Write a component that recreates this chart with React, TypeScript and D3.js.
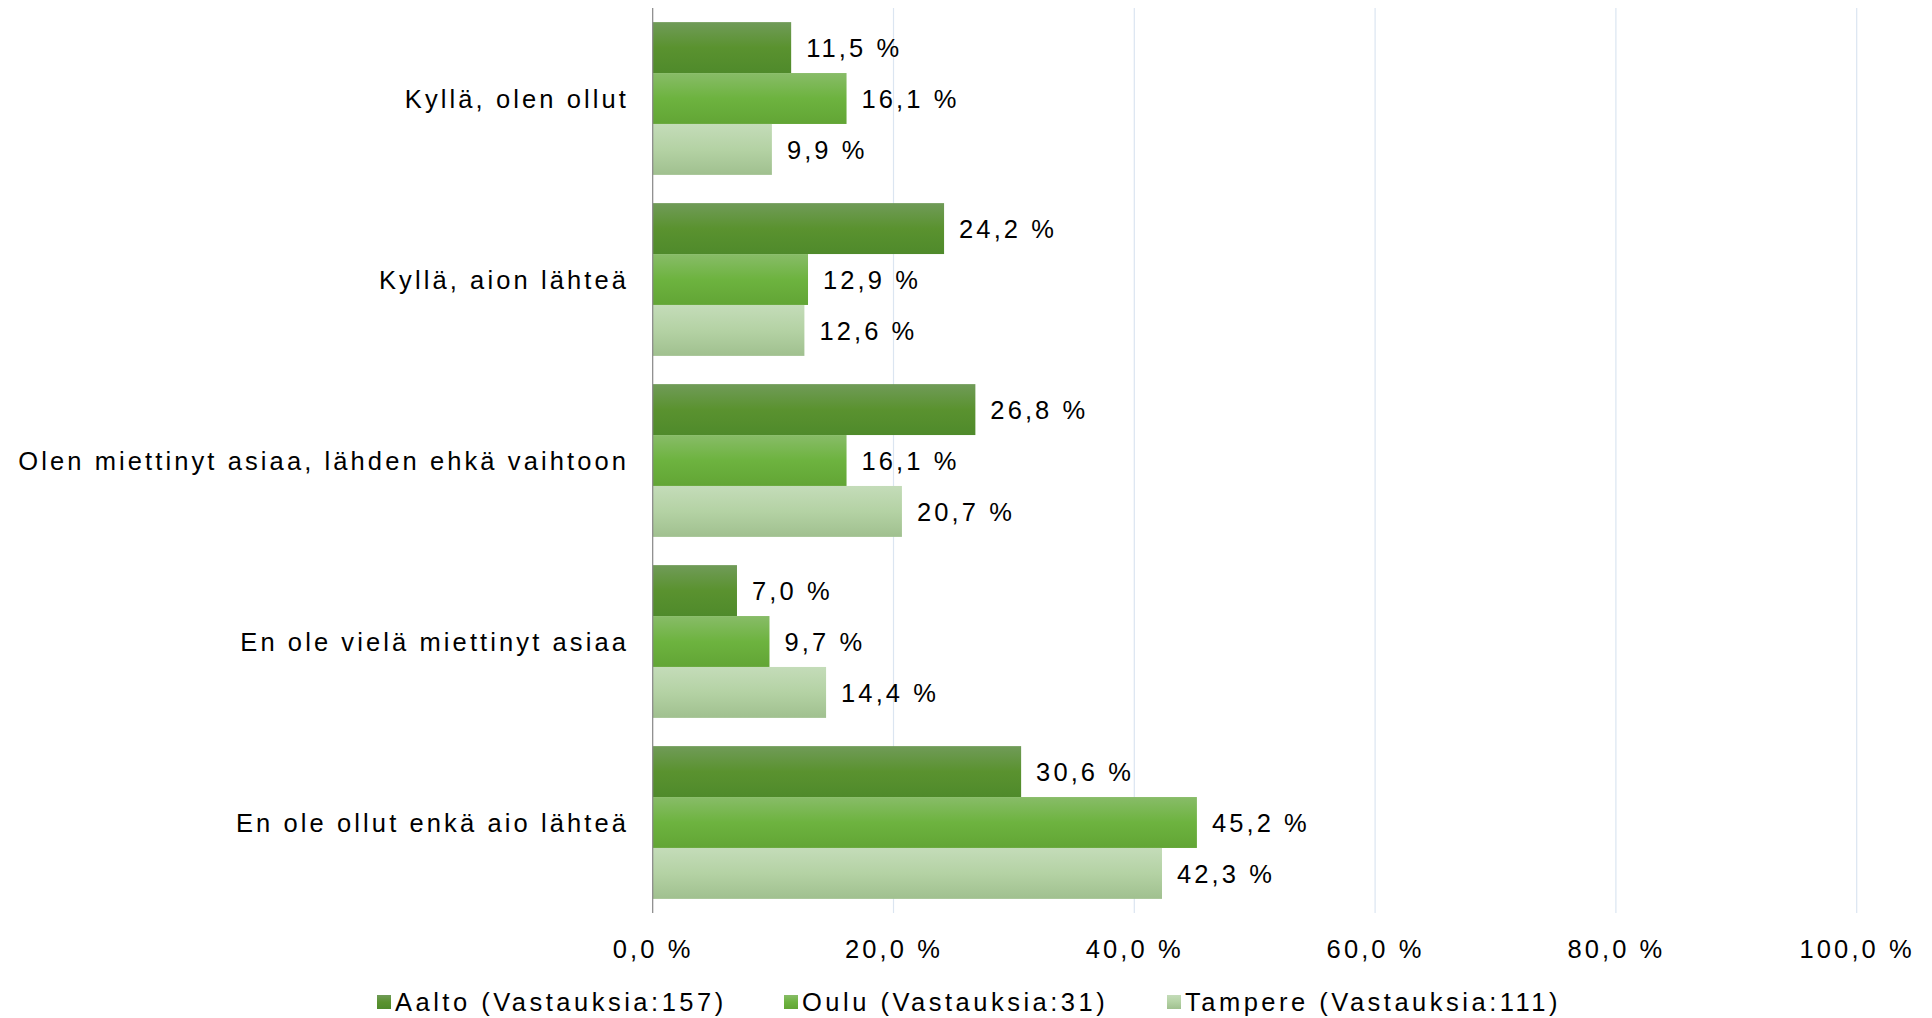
import React from 'react';
import * as d3 from 'd3';

const categories = [
  'Kyllä, olen ollut',
  'Kyllä, aion lähteä',
  'Olen miettinyt asiaa, lähden ehkä vaihtoon',
  'En ole vielä miettinyt asiaa',
  'En ole ollut enkä aio lähteä',
];
const seriesNames = [
  'Aalto (Vastauksia:157)',
  'Oulu (Vastauksia:31)',
  'Tampere (Vastauksia:111)',
];
const aalto = [11.5, 24.2, 26.8, 7.0, 30.6];
const oulu = [16.1, 12.9, 16.1, 9.7, 45.2];
const tampere = [9.9, 12.6, 20.7, 14.4, 42.3];
const ticks = [0, 20, 40, 60, 80, 100];

const gradients = [
  ['#709b58', '#5a922f', '#4f8a2b'],
  ['#88bc68', '#6db33f', '#62a535'],
  ['#c4dcb9', '#b4d2a4', '#a0c08f'],
];

const W = 1916;
const H = 1010;
const font = 'Arial, "Liberation Sans", sans-serif';
const fs = 25.5;
const ls = 3.1;
const fmt = (v: number) => v.toFixed(1).replace('.', ',') + ' %';

export default function App() {
  const series = [aalto, oulu, tampere];
  const x = d3.scaleLinear().domain([0, 100]).range([644.7, 1848.7]);
  const y = d3.scaleBand().domain(categories).range([0, 905]).paddingInner(0.156).paddingOuter(0.078);
  const inner = d3.scaleBand().domain(['0', '1', '2']).range([0, y.bandwidth()]);

  return (
    <svg width={W} height={H} style={{ display: 'block', fontFamily: font }}>
      <defs>
        {gradients.map((g, i) => (
          <linearGradient key={i} id={'g' + i} x1="0" y1="0" x2="0" y2="1">
            <stop offset="0" stopColor={g[0]} />
            <stop offset="0.5" stopColor={g[1]} />
            <stop offset="1" stopColor={g[2]} />
          </linearGradient>
        ))}
      </defs>
      {ticks.slice(1).map((t) => (
        <line key={t} x1={x(t)} x2={x(t)} y1={0} y2={905} stroke="#dbe5f1" strokeWidth={1.2} />
      ))}
      {categories.map((c, ci) => (
        <g key={c} transform={`translate(0,${y(c)})`}>
          {series.map((s, si) => {
            const by = inner(String(si))!;
            const bh = inner.bandwidth();
            return (
              <g key={si}>
                <rect x={x(0)} y={by} width={x(s[ci]) - x(0)} height={bh} fill={`url(#g${si})`} />
                <text
                  x={x(s[ci]) + 15}
                  y={by + bh / 2 + 1}
                  dy="0.35em"
                  fontSize={fs}
                  letterSpacing={ls}
                  fill="#000"
                >
                  {fmt(s[ci])}
                </text>
              </g>
            );
          })}
          <text
            x={621}
            y={y.bandwidth() / 2 + 1}
            dy="0.35em"
            textAnchor="end"
            fontSize={fs}
            letterSpacing={ls}
            fill="#000"
          >
            {c}
          </text>
        </g>
      ))}
      <line x1={x(0)} x2={x(0)} y1={0} y2={905} stroke="#868686" strokeWidth={1.2} />
      {ticks.map((t) => (
        <text key={t} x={x(t) + 0.5} y={941} dy="0.35em" textAnchor="middle" fontSize={fs} letterSpacing={ls}>
          {fmt(t)}
        </text>
      ))}
      {seriesNames.map((n, i) => {
        const lx = [369, 776, 1159][i];
        return (
          <g key={n}>
            <rect x={lx} y={987} width={14} height={14} fill={`url(#g${i})`} />
            <text x={lx + 18} y={994} dy="0.35em" fontSize={fs} letterSpacing={3.5}>
              {n}
            </text>
          </g>
        );
      })}
    </svg>
  );
}
